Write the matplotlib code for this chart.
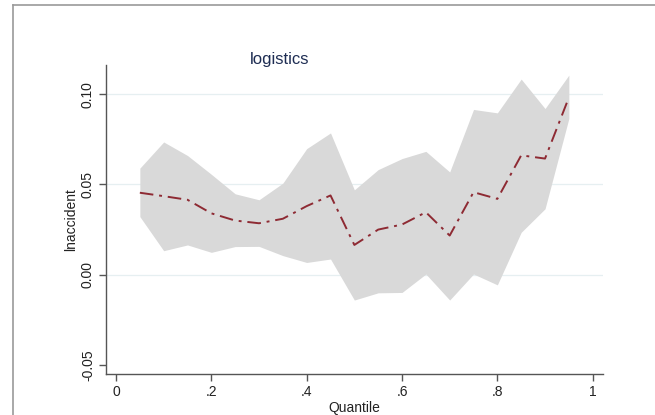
import matplotlib
matplotlib.use("Agg")
import matplotlib.pyplot as plt
from matplotlib.lines import Line2D

# quantile regression coefficients for lnaccident (logistics)
quantiles = [0.05, 0.10, 0.15, 0.20, 0.25, 0.30, 0.35, 0.40, 0.45, 0.50,
             0.55, 0.60, 0.65, 0.70, 0.75, 0.80, 0.85, 0.90, 0.95]
coef = [0.0454, 0.0435, 0.0415, 0.0340, 0.0300, 0.0285, 0.0310, 0.0380, 0.0439, 0.0165,
        0.0250, 0.0278, 0.0346, 0.0217, 0.0457, 0.0420, 0.0661, 0.0643, 0.0981]
upper = [0.0590, 0.0735, 0.0660, 0.0556, 0.0448, 0.0415, 0.0507, 0.0698, 0.0785, 0.0470,
         0.0582, 0.0643, 0.0683, 0.0569, 0.0915, 0.0896, 0.1083, 0.0920, 0.1105]
lower = [0.0322, 0.0133, 0.0165, 0.0124, 0.0156, 0.0157, 0.0106, 0.0068, 0.0087, -0.0140,
         -0.0100, -0.0098, 0.0004, -0.0140, 0.0004, -0.0056, 0.0235, 0.0365, 0.0865]

xticks = [0, 0.2, 0.4, 0.6, 0.8, 1.0]
xticklabels = ["0", ".2", ".4", ".6", ".8", "1"]
yticks = [-0.05, 0.0, 0.05, 0.10]
yticklabels = ["-0.05", "0.00", "0.05", "0.10"]

plt.rcParams["font.family"] = ["Liberation Sans", "DejaVu Sans"]

W, H = 655, 415
fig = plt.figure(figsize=(W / 100, H / 100), dpi=100)
fig.patch.set_facecolor("white")

# outer frame (top and left only, as in the cropped export)
fig.add_artist(Line2D([13 / W, 1], [1 - 5 / H, 1 - 5 / H], color="#9a9a9a", lw=1.2))
fig.add_artist(Line2D([13 / W, 13 / W], [0, 1 - 5 / H], color="#9a9a9a", lw=1.2))

ax = fig.add_axes([106 / W, (H - 374.3) / H, (603 - 106) / W, (374.3 - 65) / H])
ax.set_facecolor("white")

ax.fill_between(quantiles, lower, upper, color="#d9d9d9", lw=0, zorder=2)
ax.plot(quantiles, coef, color="#8e2a33", lw=1.4, dashes=(7, 3, 1.5, 3), zorder=3)

ax.set_xlim(-0.021, 1.0216)
ax.set_ylim(-0.0551, 0.1161)

ax.set_xticks(xticks)
ax.set_xticklabels(xticklabels, fontsize=10, color="#222222")
ax.set_yticks(yticks)
ax.set_yticklabels(yticklabels, fontsize=10, color="#222222", rotation=90, va="center")

for y in yticks[1:]:
    ax.axhline(y, color="#e6eff1", lw=0.9, zorder=1)

for s in ["top", "right"]:
    ax.spines[s].set_visible(False)
for s in ["left", "bottom"]:
    ax.spines[s].set_color("#555555")
    ax.spines[s].set_linewidth(1.0)
ax.tick_params(axis="both", direction="out", length=5, width=1.0, color="#555555", pad=3)

ax.set_xlabel("Quantile", fontsize=10, color="#222222", labelpad=1)
ax.set_ylabel("lnaccident", fontsize=10, color="#222222", labelpad=2)

fig.text(280 / W, 1 - 64 / H, "logistics", fontsize=12, color="#1e2d53", ha="center", va="baseline")

fig.savefig("out.png", dpi=100)
